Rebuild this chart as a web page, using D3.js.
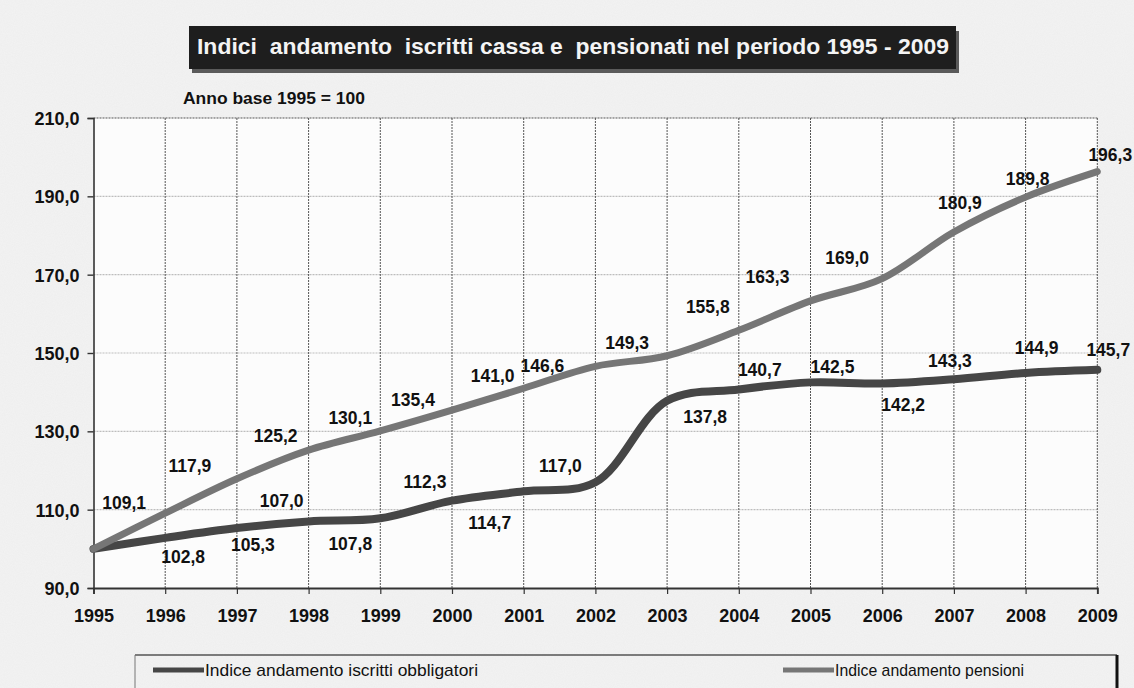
<!DOCTYPE html>
<html>
<head>
<meta charset="utf-8">
<script src="https://cdn.jsdelivr.net/npm/d3@7"></script>
<style>
  html, body { margin: 0; padding: 0; background: #efefef; }
  svg { display: block; }
  svg text { font-family: "Liberation Sans", Arial, sans-serif; }
</style>
</head>
<body>
<svg id="chart" width="1134" height="688"></svg>
<script>
// Anni e indici (anno base 1995 = 100)
const years = [1995, 1996, 1997, 1998, 1999, 2000, 2001, 2002, 2003, 2004, 2005, 2006, 2007, 2008, 2009];
const iscritti = [100, 102.8, 105.3, 107.0, 107.8, 112.3, 114.7, 117.0, 137.8, 140.7, 142.5, 142.2, 143.3, 144.9, 145.7];
const pensioni = [100, 109.1, 117.9, 125.2, 130.1, 135.4, 141.0, 146.6, 149.3, 155.8, 163.3, 169.0, 180.9, 189.8, 196.3];
const yTicks = [90, 110, 130, 150, 170, 190, 210];

// Spostamento delle etichette rispetto al punto (null = nessuna etichetta)
const iscrittiLabelOffset = [null, [18, 19], [16, 17], [-27, -21], [-30, 25], [-27, -19], [-34, 31], [-35, -17],
  [38, 16], [21, -20], [22, -16], [21, 21], [-4, -19], [11, -25], [11, -20]];
const pensioniLabelOffset = [null, [-41, -10], [-47, -13], [-33, -14], [-30, -13], [-39, -10], [-31, -13], [-53, -1],
  [-40, -13], [-31, -24], [-43, -24], [-35, -21], [6, -29], [2, -18], [13, -17]];

const seriesList = [
  { name: "Indice andamento iscritti obbligatori", values: iscritti, offsets: iscrittiLabelOffset, color: "#464646", width: 8, legendLen: 273 },
  { name: "Indice andamento pensioni", values: pensioni, offsets: pensioniLabelOffset, color: "#767676", width: 7, legendLen: 189 }
];

const fmt = v => v.toFixed(1).replace(".", ",");

const svg = d3.select("#chart");
const margin = { left: 93.5, right: 1097.3, top: 118, bottom: 588 };

const x = d3.scaleLinear().domain([1995, 2009]).range([margin.left, margin.right]);
const y = d3.scaleLinear().domain([90, 210]).range([margin.bottom, margin.top]);

// Grana leggera dello sfondo
const defs = svg.append("defs");
const noise = defs.append("filter").attr("id", "grain").attr("x", 0).attr("y", 0).attr("width", "100%").attr("height", "100%");
noise.append("feTurbulence").attr("type", "fractalNoise").attr("baseFrequency", 0.9).attr("numOctaves", 2).attr("seed", 3);
noise.append("feColorMatrix").attr("type", "matrix")
  .attr("values", "0 0 0 0 0.5  0 0 0 0 0.5  0 0 0 0 0.5  0 0 0 0.10 0");
svg.append("rect").attr("width", 1134).attr("height", 688).attr("fill", "#f3f3f3");
svg.append("rect").attr("width", 1134).attr("height", 688).attr("filter", "url(#grain)");

// Area del grafico
svg.append("rect")
  .attr("x", margin.left).attr("y", margin.top)
  .attr("width", margin.right - margin.left).attr("height", margin.bottom - margin.top)
  .attr("fill", "#fcfcfc");

// Griglia orizzontale
svg.append("g")
  .selectAll("line")
  .data(yTicks.slice(1, -1))
  .join("line")
  .attr("x1", margin.left).attr("x2", margin.right)
  .attr("y1", d => y(d)).attr("y2", d => y(d))
  .attr("stroke", "#bdbdbd").attr("stroke-width", 1.2).attr("stroke-dasharray", "2,1");

// Griglia verticale
svg.append("g")
  .selectAll("line")
  .data(years.slice(1))
  .join("line")
  .attr("x1", d => x(d)).attr("x2", d => x(d))
  .attr("y1", margin.top).attr("y2", margin.bottom)
  .attr("stroke", "#555").attr("stroke-width", 1).attr("stroke-dasharray", "2,1");

// Bordo superiore
svg.append("line")
  .attr("x1", margin.left).attr("x2", margin.right)
  .attr("y1", margin.top).attr("y2", margin.top)
  .attr("stroke", "#555").attr("stroke-width", 1.2).attr("stroke-dasharray", "2,1");

// Assi
const yAxis = d3.axisLeft(y).tickValues(yTicks).tickSize(6).tickFormat(fmt);
const xAxis = d3.axisBottom(x).tickValues(years).tickSize(6).tickFormat(d3.format("d"));

const gy = svg.append("g").attr("transform", `translate(${margin.left},0)`).call(yAxis)
  .attr("font-family", null);
gy.select(".domain").attr("stroke", "#333").attr("stroke-width", 1.6);
gy.selectAll(".tick line").attr("stroke", "#333").attr("stroke-width", 1.4);
gy.selectAll(".tick text").attr("x", -14).attr("dy", "0.36em")
  .attr("font-size", 18).attr("font-weight", "bold").attr("fill", "#111");

const gx = svg.append("g").attr("transform", `translate(0,${margin.bottom})`).call(xAxis)
  .attr("font-family", null);
gx.select(".domain").attr("stroke", "#333").attr("stroke-width", 1.8);
gx.selectAll(".tick line").attr("stroke", "#333").attr("stroke-width", 1.2);
gx.selectAll(".tick text").attr("y", 21)
  .attr("font-size", 18).attr("font-weight", "bold").attr("fill", "#111");

// Linee delle serie
const line = d3.line()
  .x((d, i) => x(years[i]))
  .y(d => y(d))
  .curve(d3.curveCatmullRom.alpha(0.5));

seriesList.forEach(s => {
  svg.append("path")
    .datum(s.values)
    .attr("d", line)
    .attr("fill", "none")
    .attr("stroke", s.color)
    .attr("stroke-width", s.width)
    .attr("stroke-linejoin", "round")
    .attr("stroke-linecap", "round");
});

// Etichette dei valori
seriesList.forEach(s => {
  svg.append("g")
    .selectAll("text")
    .data(s.values.map((v, i) => ({ v, i, off: s.offsets[i] })).filter(d => d.off))
    .join("text")
    .attr("x", d => x(years[d.i]) + d.off[0])
    .attr("y", d => y(d.v) + d.off[1])
    .attr("dy", "0.36em")
    .attr("text-anchor", "middle")
    .attr("font-size", 17.5)
    .attr("font-weight", "bold")
    .attr("fill", "#111")
    .text(d => fmt(d.v));
});

// Titolo in riquadro scuro con ombra
svg.append("rect").attr("x", 192).attr("y", 31).attr("width", 767).attr("height", 42).attr("fill", "#5a5a5a");
svg.append("rect").attr("x", 189).attr("y", 26).attr("width", 767).attr("height", 43).attr("fill", "#1e1e1e");
svg.append("text")
  .attr("x", 197).attr("y", 54)
  .attr("font-size", 22).attr("font-weight", "bold").attr("fill", "#f4f4f4")
  .style("white-space", "pre")
  .attr("textLength", 752).attr("lengthAdjust", "spacingAndGlyphs")
  .text("Indici  andamento  iscritti cassa e  pensionati nel periodo 1995 - 2009");

svg.append("text")
  .attr("x", 183).attr("y", 104)
  .attr("font-size", 16.5).attr("font-weight", "bold").attr("fill", "#111")
  .attr("textLength", 182).attr("lengthAdjust", "spacingAndGlyphs")
  .text("Anno base 1995 = 100");

// Legenda
const lg = svg.append("g");
lg.append("line").attr("x1", 135).attr("x2", 1117).attr("y1", 655).attr("y2", 655).attr("stroke", "#555").attr("stroke-width", 1.4);
lg.append("line").attr("x1", 135).attr("x2", 135).attr("y1", 655).attr("y2", 688).attr("stroke", "#777").attr("stroke-width", 1);
lg.append("line").attr("x1", 1117).attr("x2", 1117).attr("y1", 655).attr("y2", 688).attr("stroke", "#111").attr("stroke-width", 3);

const legendX = [153, 783];
seriesList.forEach((s, i) => {
  lg.append("line")
    .attr("x1", legendX[i]).attr("x2", legendX[i] + 51)
    .attr("y1", 670).attr("y2", 670)
    .attr("stroke", s.color).attr("stroke-width", 5);
  lg.append("text")
    .attr("x", legendX[i] + 52).attr("y", 676)
    .attr("font-size", 17).attr("fill", "#111")
    .attr("textLength", s.legendLen).attr("lengthAdjust", "spacingAndGlyphs")
    .text(s.name);
});
</script>
</body>
</html>
